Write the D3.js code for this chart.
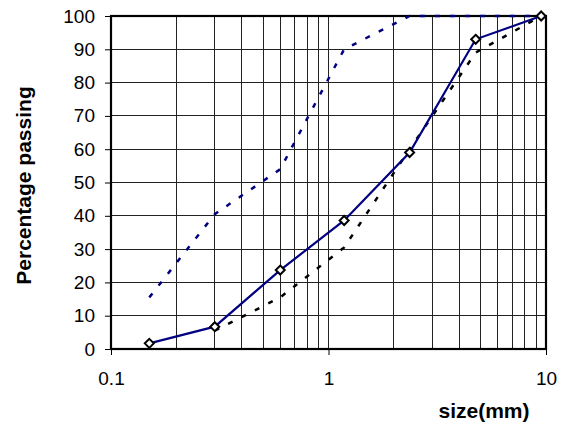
<!doctype html>
<html>
  <head>
    <script src="https://cdnjs.cloudflare.com/ajax/libs/d3/7.8.5/d3.min.js"></script>
    <style>
      body { margin: 0; background: #fff; }
      svg { display: block; font-family: "Liberation Sans", Arial, sans-serif; }
      .tick text { font-size: 19px; fill: #000; }
      .axis path.domain { display: none; }
      .axis line { stroke: #000; }
      .grid line { stroke: #222; stroke-width: 1; shape-rendering: crispEdges; }
      .title { font-size: 21px; font-weight: bold; }
    </style>
  </head>
  <body>
    <svg width="565" height="429"></svg>
    <script>
      // sieve sizes (mm) and percentage passing
      var sizes = [0.15, 0.3, 0.6, 1.18, 2.36, 4.75, 9.5];
      var sample = [1.7, 6.7, 23.7, 38.6, 59, 93, 100];
      var upperLimit = [15.5, 40.5, 54, 90, 100, 100, 100];
      var lowerLimit = [null, 5.5, 15.5, 30.5, 60, 89, 100];

      var xTicks = [0.1, 1, 10];
      var yTicks = [0, 10, 20, 30, 40, 50, 60, 70, 80, 90, 100];

      // plot box (window.top is read-only, so own names)
      var pL = 111, pR = 546, pT = 16, pB = 349;

      var svg = d3.select("svg");

      var x = d3.scaleLog().domain([0.1, 10]).range([pL, pR]);
      var y = d3.scaleLinear().domain([0, 100]).range([pB, pT]);

      // minor + major vertical grid lines (2..9 in each decade)
      var vgrid = [];
      [0.1, 1].forEach(function(dec) {
        for (var k = 2; k <= 9; k++) vgrid.push(dec * k);
      });
      vgrid.push(1);

      var grid = svg.append("g").attr("class", "grid");
      grid.selectAll("line.v")
        .data(vgrid)
        .enter().append("line")
          .attr("class", "v")
          .attr("x1", d => x(d)).attr("x2", d => x(d))
          .attr("y1", pT).attr("y2", pB);
      grid.selectAll("line.h")
        .data(yTicks.slice(1, -1))
        .enter().append("line")
          .attr("class", "h")
          .attr("x1", pL).attr("x2", pR)
          .attr("y1", d => y(d)).attr("y2", d => y(d));

      // axes
      svg.append("g")
        .attr("class", "axis")
        .attr("transform", "translate(" + pL + ",0)")
        .call(d3.axisLeft(y).tickValues(yTicks).tickSize(6).tickPadding(10).tickFormat(d3.format("d")));

      svg.append("g")
        .attr("class", "axis")
        .attr("transform", "translate(0," + pB + ")")
        .call(d3.axisBottom(x).tickValues(xTicks).tickSize(6).tickPadding(17).tickFormat(d => String(d)));

      // plot frame
      svg.append("rect")
        .attr("x", pL).attr("y", pT)
        .attr("width", pR - pL).attr("height", pB - pT)
        .attr("fill", "none").attr("stroke", "#000").attr("stroke-width", 2.2);

      var line = d3.line()
        .defined(d => d[1] != null)
        .x(d => x(d[0]))
        .y(d => y(d[1]));

      svg.append("path")
        .datum(sizes.map((s, i) => [s, upperLimit[i]]))
        .attr("d", line)
        .attr("fill", "none").attr("stroke", "#000080")
        .attr("stroke-width", 2.5).attr("stroke-dasharray", "5,10");

      svg.append("path")
        .datum(sizes.map((s, i) => [s, lowerLimit[i]]))
        .attr("d", line)
        .attr("fill", "none").attr("stroke", "#000")
        .attr("stroke-width", 2.5).attr("stroke-dasharray", "5,10");

      svg.append("path")
        .datum(sizes.map((s, i) => [s, sample[i]]))
        .attr("d", line)
        .attr("fill", "none").attr("stroke", "#000080")
        .attr("stroke-width", 2.2);

      svg.selectAll("path.marker")
        .data(sizes.map((s, i) => [s, sample[i]]))
        .enter().append("path")
          .attr("class", "marker")
          .attr("d", "M0,-4.5L4.5,0L0,4.5L-4.5,0Z")
          .attr("transform", d => "translate(" + x(d[0]) + "," + y(d[1]) + ")")
          .attr("fill", "#fff").attr("stroke", "#000").attr("stroke-width", 2);

      // titles
      svg.append("text")
        .attr("class", "title")
        .attr("text-anchor", "middle")
        .attr("transform", "translate(31,185.5) rotate(-90)")
        .text("Percentage passing");

      svg.append("text")
        .attr("class", "title")
        .attr("text-anchor", "middle")
        .attr("x", 484).attr("y", 418)
        .text("size(mm)");
    </script>
  </body>
</html>
